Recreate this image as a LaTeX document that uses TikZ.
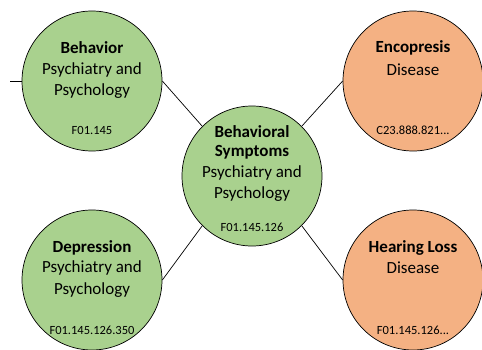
\documentclass[tikz,border=0pt]{standalone}
\usepackage{fontspec}
\setmainfont{Carlito}
\definecolor{gfill}{HTML}{A9D18E}
\definecolor{ofill}{HTML}{F4B183}
\begin{document}
\begin{tikzpicture}[x=1pt,y=1pt,
  circ/.style={circle,draw=black,line width=0.7pt,minimum size=140pt,inner sep=0pt},
  gcirc/.style={circ,fill=gfill},
  ocirc/.style={circ,fill=ofill},
  lbl/.style={font=\fontsize{17}{20}\selectfont,inner sep=0pt,anchor=center},
  ttl/.style={font=\fontsize{17}{20}\selectfont\bfseries,inner sep=0pt,anchor=center},
  code/.style={font=\fontsize{12.5}{14}\selectfont,inner sep=0pt,anchor=center},
  conn/.style={draw=black,line width=0.7pt}]
\useasboundingbox (0,0) rectangle (482,349);
% circles
\node[gcirc] (b) at (92,268) {};
\node[ocirc] (e) at (413,268) {};
\node[gcirc] (d) at (92,69) {};
\node[ocirc] (h) at (413,69) {};
% connectors
\coordinate (stub) at (10,268);
\draw[conn] (stub) -- (b.west);
\node[gcirc] (c) at (252,173) {};
\draw[conn] (b.east) -- (c.north west);
\draw[conn] (e.west) -- (c.north east);
\draw[conn] (d.east) -- (c.south west);
\draw[conn] (h.west) -- (c.south east);
% Behavior
\node[ttl] (bt) at (92,301) {Behavior};
\node[lbl] (b1) at (92,279) {Psychiatry and};
\node[lbl] (b2) at (92,258) {Psychology};
\node[code] (bc) at (92,219) {F01.145};
% Encopresis
\node[ttl] (et) at (413,301) {Encopresis};
\node[lbl] (e1) at (413,279) {Disease};
\node[code] (ec) at (413,219) {C23.888.821...};
% Central
\node[ttl] (ct1) at (252,217) {Behavioral};
\node[ttl] (ct2) at (252,197) {Symptoms};
\node[lbl] (c1) at (252,176) {Psychiatry and};
\node[lbl] (c2) at (252,155) {Psychology};
\node[code] (cc) at (252,122) {F01.145.126};
% Depression
\node[ttl] (dt) at (92,101) {Depression};
\node[lbl] (d1) at (92,81) {Psychiatry and};
\node[lbl] (d2) at (92,59) {Psychology};
\node[code] (dc) at (92,19) {F01.145.126.350};
% Hearing Loss
\node[ttl] (ht) at (413,101) {Hearing Loss};
\node[lbl] (h1) at (413,81) {Disease};
\node[code] (hc) at (413,19) {F01.145.126...};
\end{tikzpicture}
\end{document}
